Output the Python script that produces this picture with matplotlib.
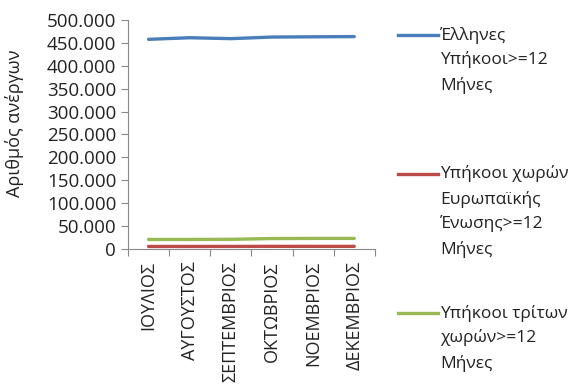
import matplotlib.pyplot as plt
import numpy as np
from matplotlib.lines import Line2D
from matplotlib.ticker import FuncFormatter, FixedLocator

plt.rcParams["font.family"] = ["Open Sans", "DejaVu Sans"]

months = ["ΙΟΥΛΙΟΣ", "ΑΥΓΟΥΣΤΟΣ", "ΣΕΠΤΕΜΒΡΙΟΣ", "ΟΚΤΩΒΡΙΟΣ", "ΝΟΕΜΒΡΙΟΣ", "ΔΕΚΕΜΒΡΙΟΣ"]
greeks = [458000, 461500, 459500, 463000, 463500, 464000]
eu = [5200, 5200, 5300, 5400, 5400, 5400]
third = [20500, 20500, 20800, 22500, 22800, 22800]

labels = [["Έλληνες", "Υπήκοοι>=12", "Μήνες"],
          ["Υπήκοοι χωρών", "Ευρωπαϊκής", "Ένωσης>=12", "Μήνες"],
          ["Υπήκοοι τρίτων", "χωρών>=12", "Μήνες"]]
colors = ["#4a7ebb", "#be4b48", "#98b954"]

fig = plt.figure(figsize=(5.74, 3.87), dpi=100)
ax = fig.add_axes([0.223, 0.357, 0.43, 0.591])

x = np.arange(len(months))
for vals, c in zip([greeks, eu, third], colors):
    ax.plot(x, vals, color=c, lw=2.4, solid_capstyle="round")

ax.set_xlim(-0.5, len(months) - 0.5)
ax.set_ylim(0, 500000)
ax.set_yticks(np.arange(0, 500001, 50000))
ax.yaxis.set_major_formatter(FuncFormatter(lambda v, p: f"{int(v):,}".replace(",", ".")))

ax.xaxis.set_major_locator(FixedLocator(np.arange(-0.5, len(months), 1)))
ax.xaxis.set_major_formatter(FuncFormatter(lambda v, p: ""))
ax.set_xticks(x, minor=True)
ax.set_xticklabels(months, minor=True, rotation=90)
ax.tick_params(axis="x", which="minor", length=0, pad=9, labelsize=13, labelcolor="#222222")
ax.tick_params(axis="x", which="major", length=5, color="#888888")
ax.tick_params(axis="y", length=5, color="#888888", labelsize=13.5, labelcolor="#222222")

for s in ["top", "right"]:
    ax.spines[s].set_visible(False)
for s in ["left", "bottom"]:
    ax.spines[s].set_color("#888888")

ax.set_ylabel("Αριθμός ανέργων", fontsize=13, color="#222222")
ax.yaxis.set_label_coords(-0.42, 0.55)

# legend, Excel style: line at first text row
W, H = 574, 387
tops = [35, 174, 313]
for rows, c, yt in zip(labels, colors, tops):
    fig.add_artist(Line2D([398 / W, 438 / W], [1 - yt / H, 1 - yt / H],
                          color=c, lw=2.4, transform=fig.transFigure))
    for i, row in enumerate(rows):
        fig.text(440 / W, 1 - (yt + 25 * i) / H, row, fontsize=12.5, color="#222222",
                 va="center", ha="left")

fig.savefig("out.png", dpi=100)
